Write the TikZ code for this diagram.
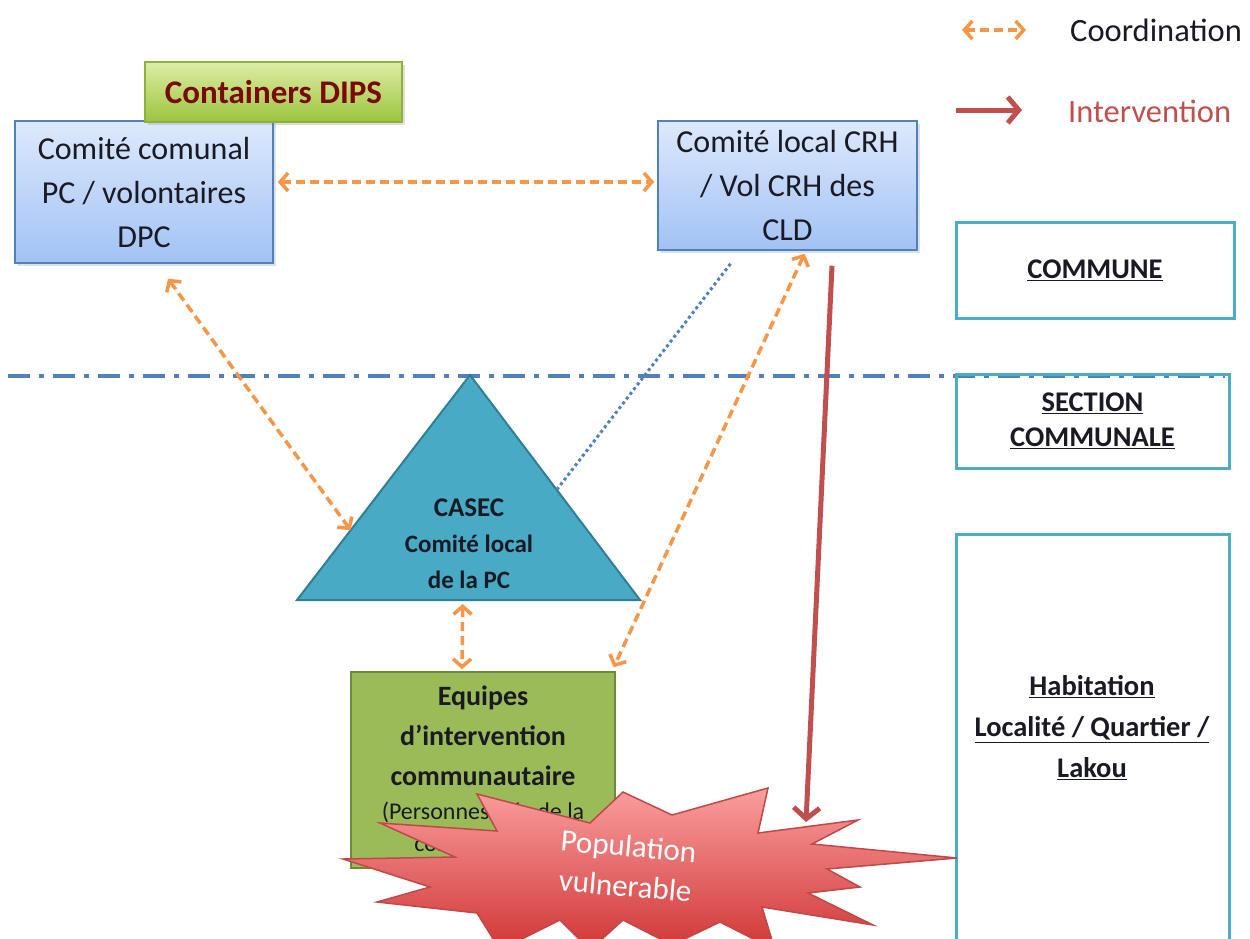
\documentclass[tikz,border=0pt]{standalone}
\usepackage{fontspec}
\setmainfont{Carlito}
\usetikzlibrary{arrows.meta,calc,shadows}
\definecolor{orangeC}{HTML}{F79646}
\definecolor{redC}{HTML}{C0504D}
\definecolor{blueC}{HTML}{4F81BD}
\definecolor{tealC}{HTML}{4BACC6}
\definecolor{triFill}{HTML}{48AAC4}
\definecolor{triLine}{HTML}{2F7F95}
\definecolor{greenFill}{HTML}{9BBB59}
\definecolor{greenLine}{HTML}{6E8A3A}
\definecolor{blueTop}{HTML}{DDE9FC}
\definecolor{blueBot}{HTML}{A2C2F4}
\definecolor{limeTop}{HTML}{DDEDA6}
\definecolor{limeBot}{HTML}{9CC43E}
\definecolor{limeLine}{HTML}{8DB13B}
\definecolor{dipsText}{HTML}{7A0A0A}
\definecolor{starTop}{HTML}{FA9E9E}
\definecolor{starBot}{HTML}{D03636}
\definecolor{starLine}{HTML}{C04848}
\definecolor{textC}{HTML}{1A1A24}
\begin{document}
\begin{tikzpicture}[x=1pt,y=-1pt,
  coordarrow/.style={draw=orangeC, line width=3.5pt, dash pattern=on 9pt off 5pt,
    {Straight Barb[length=8pt,width=18pt]}-{Straight Barb[length=8pt,width=18pt]}},
  interv/.style={draw=redC, line width=5pt, -{Straight Barb[length=11pt,width=26pt]}},
  sepline/.style={draw=blueC, line width=4pt, dash pattern=on 22pt off 9pt on 5pt off 9pt},
  dotline/.style={draw=blueC, line width=3pt, dash pattern=on 3pt off 3pt},
  bluebox/.style={draw=blueC, line width=1.5pt, top color=blueTop, bottom color=blueBot,
    inner sep=0pt, align=center, text=textC, font=\fontsize{32}{44}\selectfont,
    drop shadow={opacity=0.25, shadow xshift=3pt, shadow yshift=-3pt}},
  dipsbox/.style={draw=limeLine, line width=1.2pt, top color=limeTop, bottom color=limeBot,
    inner sep=0pt, text=dipsText, font=\fontsize{33}{38}\selectfont\bfseries,
    drop shadow={opacity=0.25, shadow xshift=3pt, shadow yshift=-3pt}},
  levelbox/.style={draw=tealC, line width=3pt, inner sep=0pt, align=center, text=textC,
    font=\fontsize{28.5}{37}\selectfont\bfseries},
  leveltext/.style={inner sep=0pt, align=center, text=textC, font=\fontsize{28.5}{43}\selectfont\bfseries},
  tristyle/.style={draw=triLine, line width=2pt, fill=triFill, line join=miter},
  tritext/.style={inner sep=0pt, align=center, text=textC, font=\fontsize{25}{36}\selectfont\bfseries},
  eqbox/.style={draw=greenLine, line width=1.5pt, fill=greenFill, inner sep=0pt, align=center,
    text=textC, font=\fontsize{28}{40}\selectfont\bfseries},
  starstyle/.style={draw=starLine, line width=1.5pt, top color=starTop, bottom color=starBot, line join=miter},
  startext/.style={inner sep=0pt, align=center, text=white, font=\fontsize{31}{40}\selectfont},
  legendtext/.style={inner sep=0pt, anchor=west, font=\fontsize{32.5}{38}\selectfont}
]
\useasboundingbox (0,0) rectangle (1250,938);
\fill[white] (0,0) rectangle (1250,938);

% separation line
\coordinate (lineL) at (8,376);
\coordinate (lineR) at (1225,376);
\draw[sepline] (lineL) -- (lineR);

% right level boxes
\node[levelbox, minimum width=278pt, minimum height=96pt] (commune) at (1095,270) {\underline{COMMUNE}};
\node[levelbox, minimum width=273pt, minimum height=94pt] (section) at (1092.5,421) {\underline{SECTION}\\[-2pt]\underline{COMMUNALE}};
\node[levelbox, minimum width=273pt, minimum height=420pt, anchor=north] (habbox) at (1092.5,533) {};
\node[leveltext] (habit) at (1092,728) {\underline{Habitation}\\[-2pt]\underline{Localité / Quartier /}\\[-2pt]\underline{Lakou}};

% top boxes
\node[bluebox, minimum width=258pt, minimum height=142pt] (cc) at (144,192) {Comité comunal\\PC / volontaires\\DPC};
\node[dipsbox, minimum width=257pt, minimum height=60pt] (dips) at (273.5,92) {Containers DIPS};
\node[bluebox, minimum width=259pt, minimum height=129pt] (crh) at (787.5,185.5) {Comité local CRH\\/ Vol CRH des\\CLD};

% triangle CASEC
\coordinate (tA) at (470,375);
\coordinate (tL) at (297,600);
\coordinate (tR) at (640,600);
\draw[tristyle] (tA) -- (tR) -- (tL) -- cycle;
\node[tritext] (casec) at (469,544) {{\fontsize{27}{36}\selectfont CASEC}\\Comité local\\de la PC};

% Equipes box
\node[eqbox, minimum width=264pt, minimum height=196pt] (eq) at (483,770)
  {Equipes\\d’intervention\\communautaire\\[-6pt]{\mdseries\fontsize{24}{30}\selectfont (Personnes clés de la}\\[-8pt]{\mdseries\fontsize{24}{30}\selectfont communauté)}};

% starburst
\shadedraw[starstyle] (343,859) -- (455,857) -- (380,823) -- (497,831) -- (477,794) -- (590,823)
  -- (623,792) -- (672,815) -- (768,788) -- (758,833) -- (858,820) -- (812,844) -- (957,858)
  -- (827,869) -- (860,887) -- (808,893) -- (873,925) -- (762,907) -- (775,950) -- (720,922)
  -- (672,945) -- (623,920) -- (590,950) -- (560,920) -- (500,950) -- (477,913) -- (377,902)
  -- (430,887) -- cycle;
\node[startext, rotate=-5] (pop) at (627,866) {Population\\vulnerable};
\coordinate (starN) at (806,822);

% connectors
\coordinate (y1) at (0,182);
\draw[coordarrow] ($(cc.east |- y1)+(4,0)$) -- ($(crh.west |- y1)+(-3,0)$);
\draw[coordarrow] ($(cc.south)+(24,15)$) -- ($(tL)!0.31!(tA)$);
\draw[coordarrow] ($(tL)!0.483!(tR)+(0,4)$) -- ($(eq.north)+(-21,-2)$);
\draw[coordarrow] ($(crh.south)+(17,3)$) -- ($(eq.north east)+(-2,-4)$);
\draw[dotline] ($(crh.south)+(-57,13)$) -- ($(tR)!0.49!(tA)$);
\draw[interv] ($(crh.south)+(44.5,15)$) -- (starN);

% legend
\coordinate (lgA1) at (962,30);
\coordinate (lgA2) at (1026,30);
\draw[coordarrow] (lgA1) -- (lgA2);
\node[legendtext, text=textC] (lgC) at (1070,30) {Coordination};
\coordinate (lgB1) at (956,110);
\coordinate (lgB2) at (1022,110);
\draw[interv] (lgB1) -- (lgB2);
\node[legendtext, text=redC] (lgI) at (1068,111) {Intervention};
\end{tikzpicture}
\end{document}
